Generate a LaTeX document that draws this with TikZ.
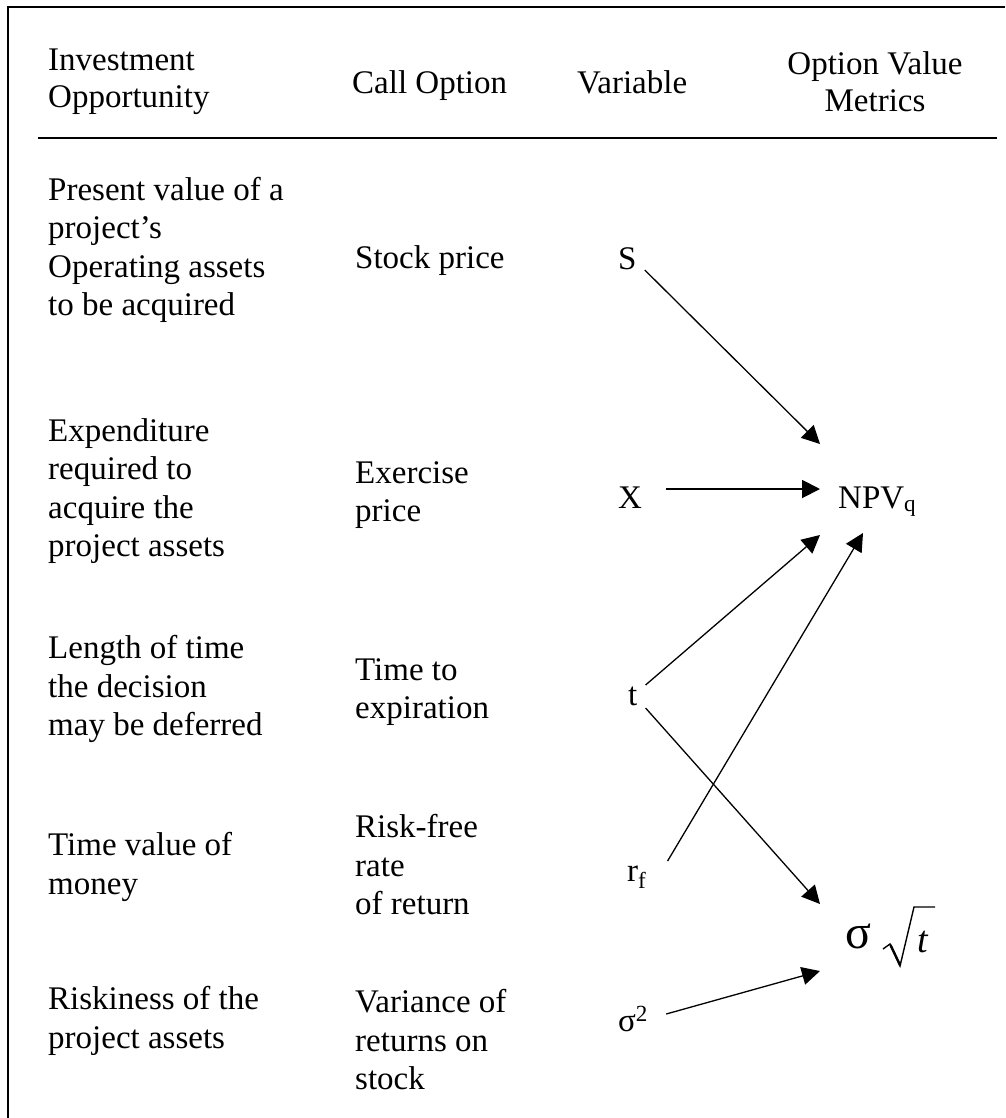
\documentclass[tikz,border=0pt]{standalone}
\usepackage{fontspec}
\setmainfont{Liberation Serif}
\usetikzlibrary{arrows.meta}

\tikzset{
  txt/.style={anchor=west, inner sep=0pt, align=left,
              font=\fontsize{33}{38.5}\selectfont},
  hdc/.style={anchor=center, inner sep=0pt, align=center,
              font=\fontsize{33}{37}\selectfont},
  one/.style={anchor=base west, inner sep=0pt,
              font=\fontsize{33}{38.5}\selectfont},
  link/.style={line width=1.3pt, -{Triangle[length=18pt,width=18pt]}},
  rule/.style={line width=1.8pt},
  radical/.style={line width=1.4pt, line join=miter},
}

\begin{document}
\begin{tikzpicture}[x=1pt, y=-1pt]
  \useasboundingbox (0,0) rectangle (1005,1118);

  % frame and header rule
  \draw[rule] (8,1118) -- (8,7) -- (1005,7);
  \draw[rule] (38,138) -- (997,138);

  % column headings
  \node[hdc, anchor=west, align=left] (hInv) at (48,81.5) {Investment\\Opportunity};
  \node[one] (hCall) at (352,94) {Call Option};
  \node[one] (hVar) at (577,94) {Variable};
  \node[hdc] (hMet) at (875,81.5) {Option Value\\Metrics};

  % investment opportunity column
  \node[txt] (i1) at (48,250) {Present value of a\\project’s\\Operating assets\\to be acquired};
  \node[txt] (i2) at (48,491) {Expenditure\\required to\\acquire the\\project assets};
  \node[txt] (i3) at (48,689) {Length of time\\the decision\\may be deferred};
  \node[txt] (i4) at (48,867) {Time value of\\money};
  \node[txt] (i5) at (48,1021) {Riskiness of the\\project assets};

  % call option column
  \node[one] (c1) at (355,268) {Stock price};
  \node[txt] (c2) at (355,495) {Exercise\\price};
  \node[txt] (c3) at (355,692) {Time to\\expiration};
  \node[txt] (c4) at (355,865) {Risk-free\\rate\\of return};
  \node[txt] (c5) at (355,1040) {Variance of\\returns on\\stock};

  % variables
  \node[one] (S)  at (618,269) {S};
  \node[one] (X)  at (618,508) {X};
  \node[one] (t)  at (628,705) {t};
  \node[one] (rf) at (627,881) {r\textsubscript{f}};
  \node[one] (s2) at (618,1031) {σ\textsuperscript{2}};

  % option value metrics
  \node[one] (npv) at (838,508) {NPV\textsubscript{q}};
  \node[one, font=\fontsize{48}{48}\selectfont] (sig) at (845,948) {σ};
  \node[one, font=\fontsize{38}{38}\selectfont\itshape] (sqt) at (917,952) {t};
  \draw[radical] ([shift={(-34,-3)}]sqt.base west)
    -- ([shift={(-27,-8)}]sqt.base west)
    -- ([shift={(-17,14)}]sqt.base west)
    -- ([shift={(-3,-45)}]sqt.base west)
    -- ([shift={(18,-45)}]sqt.base west);
  \draw[line width=2.4pt] ([shift={(-26.5,-7)}]sqt.base west)
    -- ([shift={(-17,13)}]sqt.base west);

  % connectors
  \draw[link] ([shift={(8,1)}]S.base east) -- ([shift={(-18,-64)}]npv.base west);
  \draw[link, line width=1.9pt] ([shift={(24,-19)}]X.base east) -- ([shift={(-18,-19)}]npv.base west);
  \draw[link] ([shift={(8,-20)}]t.base east) -- ([shift={(-18,27)}]npv.base west);
  \draw[link] ([shift={(8,3)}]t.base east) -- ([shift={(-25,-44)}]sig.base west);
  \draw[link] ([shift={(21,-20)}]rf.base east) -- ([shift={(25,25)}]npv.base west);
  \draw[link] ([shift={(18,-17)}]s2.base east) -- ([shift={(-25,23)}]sig.base west);
\end{tikzpicture}
\end{document}
